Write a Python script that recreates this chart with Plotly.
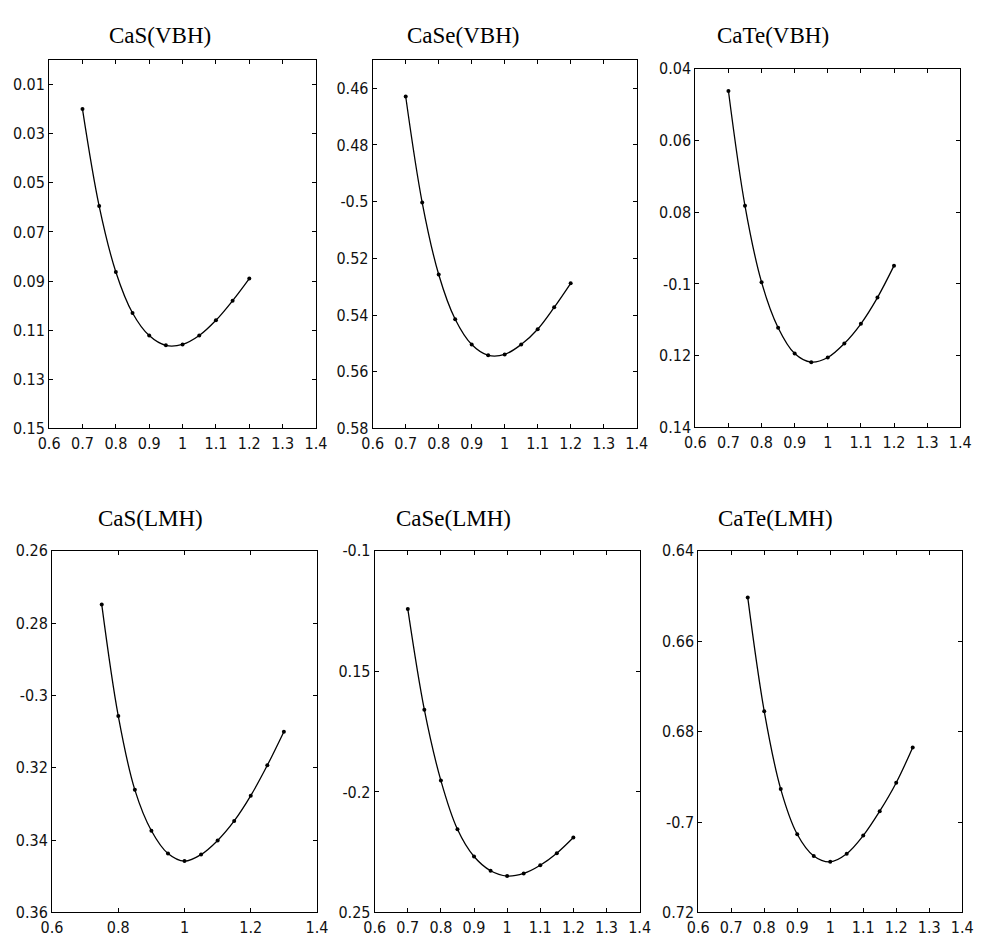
import plotly.graph_objects as go

# ---------------- data ----------------
titles = ["CaS(VBH)", "CaSe(VBH)", "CaTe(VBH)", "CaS(LMH)", "CaSe(LMH)", "CaTe(LMH)"]

x_cas_vbh = [0.70, 0.75, 0.80, 0.85, 0.90, 0.95, 1.00, 1.05, 1.10, 1.15, 1.20]
y_cas_vbh = [-0.0200, -0.0595, -0.0863, -0.1030, -0.1122, -0.1162, -0.1158, -0.1122, -0.1060, -0.0980, -0.0890]

x_case_vbh = [0.70, 0.75, 0.80, 0.85, 0.90, 0.95, 1.00, 1.05, 1.10, 1.15, 1.20]
y_case_vbh = [-0.4629, -0.5003, -0.5257, -0.5415, -0.5504, -0.5542, -0.5539, -0.5504, -0.5450, -0.5373, -0.5288]

x_cate_vbh = [0.70, 0.75, 0.80, 0.85, 0.90, 0.95, 1.00, 1.05, 1.10, 1.15, 1.20]
y_cate_vbh = [-0.0462, -0.0782, -0.0995, -0.1122, -0.1194, -0.1218, -0.1205, -0.1166, -0.1111, -0.1038, -0.0949]

x_cas_lmh = [0.75, 0.80, 0.85, 0.90, 0.95, 1.00, 1.05, 1.10, 1.15, 1.20, 1.25, 1.30]
y_cas_lmh = [-0.2748, -0.3057, -0.3261, -0.3374, -0.3437, -0.3458, -0.3440, -0.3401, -0.3347, -0.3277, -0.3193, -0.3100]

x_case_lmh = [0.70, 0.75, 0.80, 0.85, 0.90, 0.95, 1.00, 1.05, 1.10, 1.15, 1.20]
y_case_lmh = [-0.1241, -0.1659, -0.1953, -0.2155, -0.2268, -0.2327, -0.2349, -0.2338, -0.2304, -0.2254, -0.2189]

x_cate_lmh = [0.75, 0.80, 0.85, 0.90, 0.95, 1.00, 1.05, 1.10, 1.15, 1.20, 1.25]
y_cate_lmh = [-0.6503, -0.6755, -0.6927, -0.7027, -0.7075, -0.7088, -0.7070, -0.7030, -0.6976, -0.6913, -0.6835]

# y tick values and labels as printed
yt1_vals = [-0.01, -0.03, -0.05, -0.07, -0.09, -0.11, -0.13, -0.15]
yt1_text = ["0.01", "0.03", "0.05", "0.07", "0.09", "0.11", "0.13", "0.15"]
yt2_vals = [-0.46, -0.48, -0.50, -0.52, -0.54, -0.56, -0.58]
yt2_text = ["0.46", "0.48", "-0.5", "0.52", "0.54", "0.56", "0.58"]
yt3_vals = [-0.04, -0.06, -0.08, -0.10, -0.12, -0.14]
yt3_text = ["0.04", "0.06", "0.08", "-0.1", "0.12", "0.14"]
yt4_vals = [-0.26, -0.28, -0.30, -0.32, -0.34, -0.36]
yt4_text = ["0.26", "0.28", "-0.3", "0.32", "0.34", "0.36"]
yt5_vals = [-0.10, -0.15, -0.20, -0.25]
yt5_text = ["-0.1", "0.15", "-0.2", "0.25"]
yt6_vals = [-0.64, -0.66, -0.68, -0.70, -0.72]
yt6_text = ["0.64", "0.66", "0.68", "-0.7", "0.72"]

y_ranges = [[-0.15, 0.0], [-0.58, -0.45], [-0.14, -0.04], [-0.36, -0.26], [-0.25, -0.10], [-0.72, -0.64]]
x_dticks = [0.1, 0.1, 0.1, 0.2, 0.1, 0.1]

# ---------------- layout geometry (pixels) ----------------
W, H = 982, 944
boxes = [  # left, right, top, bottom
    (39, 312, 52, 428),
    (370, 640, 52, 428),
    (700, 971, 61, 427),
    (42, 313, 553, 922),
    (372, 643, 553, 922),
    (703, 973, 553, 922),
]
title_pos = [(152, 27), (462, 27), (779, 27), (143, 520), (453, 520), (782, 520)]

xs = [x_cas_vbh, x_case_vbh, x_cate_vbh, x_cas_lmh, x_case_lmh, x_cate_lmh]
ys = [y_cas_vbh, y_case_vbh, y_cate_vbh, y_cas_lmh, y_case_lmh, y_cate_lmh]
ytv = [yt1_vals, yt2_vals, yt3_vals, yt4_vals, yt5_vals, yt6_vals]
ytt = [yt1_text, yt2_text, yt3_text, yt4_text, yt5_text, yt6_text]

tickfont = dict(family="Liberation Sans Narrow, Arial Narrow, DejaVu Sans Condensed, sans-serif", size=16, color="#111")

fig = go.Figure()
layout = dict(
    width=W, height=H, margin=dict(l=0, r=0, t=0, b=0),
    paper_bgcolor="white", plot_bgcolor="white", showlegend=False,
)
annotations = []
for i in range(6):
    n = "" if i == 0 else str(i + 1)
    fig.add_trace(go.Scatter(
        x=xs[i], y=ys[i], mode="lines+markers",
        line=dict(color="black", width=1.3, shape="spline", smoothing=1.0),
        marker=dict(color="black", size=4),
        xaxis="x" + n, yaxis="y" + n,
    ))
    l, r, t, b = boxes[i]
    common = dict(showline=True, linecolor="black", linewidth=1, mirror="allticks",
                  ticks="inside", ticklen=4, tickcolor="black", showgrid=False,
                  zeroline=False, tickfont=tickfont)
    layout["xaxis" + n] = dict(domain=[l / W, r / W], anchor="y" + n, range=[0.6, 1.4],
                               tick0=0.6, dtick=x_dticks[i], **common)
    layout["yaxis" + n] = dict(domain=[1 - b / H, 1 - t / H], anchor="x" + n, range=y_ranges[i],
                               tickmode="array", tickvals=ytv[i], ticktext=ytt[i], **common)
    tx, ty = title_pos[i]
    annotations.append(dict(text=titles[i], x=tx / W, y=1 - ty / H, xref="paper", yref="paper",
                            showarrow=False, xanchor="center", yanchor="middle",
                            font=dict(family="Liberation Serif, Times New Roman, serif", size=23, color="black")))
layout["annotations"] = annotations
fig.update_layout(**layout)
fig.write_html("out.html")
